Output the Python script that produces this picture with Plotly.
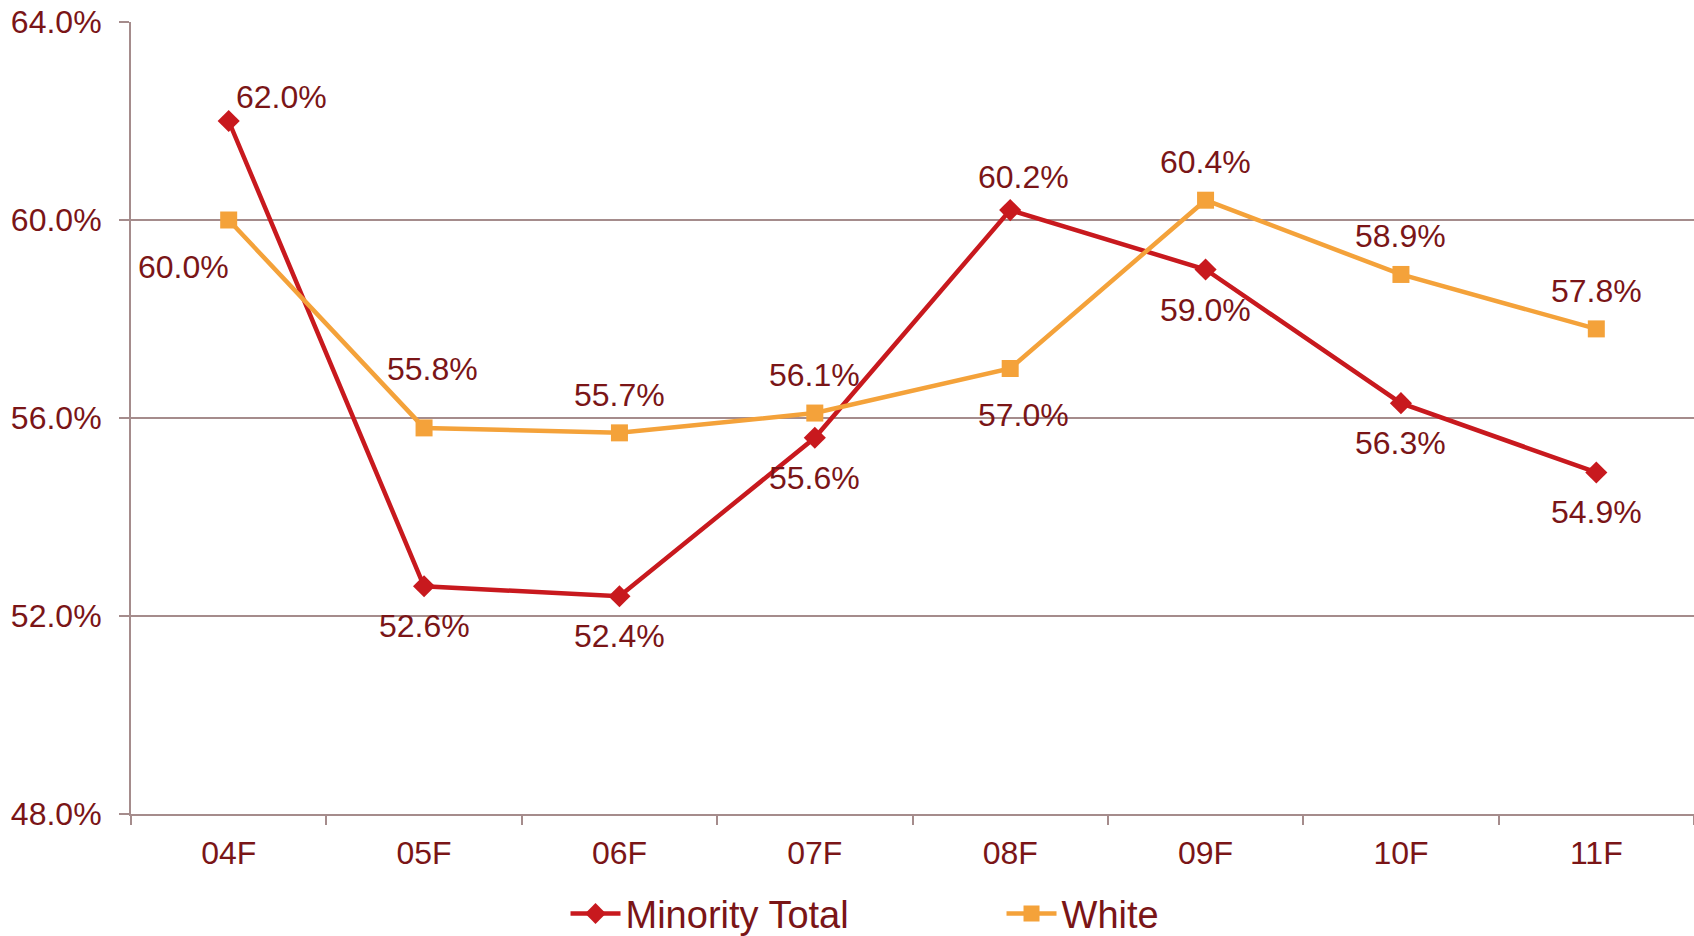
import plotly.graph_objects as go

# data
terms = ["04F", "05F", "06F", "07F", "08F", "09F", "10F", "11F"]
minority_total = [62.0, 52.6, 52.4, 55.6, 60.2, 59.0, 56.3, 54.9]
white = [60.0, 55.8, 55.7, 56.1, 57.0, 60.4, 58.9, 57.8]

# where each data label sits relative to its point
minority_pos = ["above_right", "below", "below", "below",
                "above_nudged", "below", "below", "below"]
white_pos = ["below_left", "above_far", "above", "above",
             "below_nudged", "above", "above", "above"]

RED = "#C8191E"
ORANGE = "#F4A23A"
TEXT = "#7A1517"
GRID = "#A58C8C"
FONT = "Liberation Sans, Arial, sans-serif"

# (xanchor, xshift, yshift) in pixels for each placement
PLACEMENT = {
    "above": ("center", 0, 38),
    "above_nudged": ("center", 13, 33),
    "above_far": ("center", 8, 59),
    "below": ("center", 0, -40),
    "below_nudged": ("center", 13, -46),
    "above_right": ("left", 5, 24),
    "below_left": ("right", 2, -47),
}

fig = go.Figure()

for name, values, color, symbol in [
    ("Minority Total", minority_total, RED, "diamond"),
    ("White", white, ORANGE, "square"),
]:
    fig.add_trace(go.Scatter(
        x=terms, y=values, name=name,
        mode="lines+markers",
        line=dict(color=color, width=4.5),
        marker=dict(symbol=symbol, size=17, color=color),
        cliponaxis=False,
        hoverinfo="skip",
    ))

for values, positions in [(minority_total, minority_pos), (white, white_pos)]:
    for term, v, pos in zip(terms, values, positions):
        xanchor, xshift, yshift = PLACEMENT[pos]
        fig.add_annotation(
            x=term, y=v, text=f"{v:.1f}%", showarrow=False,
            xanchor=xanchor, yanchor="middle",
            xshift=xshift, yshift=yshift,
            font=dict(size=32, color=TEXT, family=FONT),
        )

fig.update_layout(
    width=1694, height=936, autosize=False,
    margin=dict(l=131, r=0, t=22, b=122, autoexpand=False),
    paper_bgcolor="white", plot_bgcolor="white",
    font=dict(family=FONT, color=TEXT, size=32),
    showlegend=True,
    legend=dict(
        orientation="h", x=0.278, xanchor="left", y=-0.126, yanchor="middle",
        font=dict(size=38, color=TEXT, family=FONT),
        entrywidth=371, entrywidthmode="pixels",
        itemwidth=50,
    ),
)

fig.update_xaxes(
    type="category", range=[-0.5, len(terms) - 0.5], automargin=False,
    showline=True, linecolor=GRID, linewidth=2,
    ticks="outside", tickson="boundaries", ticklen=9, tickcolor=GRID, tickwidth=2,
    ticklabelstandoff=10,
    showgrid=False,
    tickfont=dict(size=32, color=TEXT),
)

fig.update_yaxes(
    range=[48, 64], dtick=4, tick0=48, automargin=False,
    tickformat=".1f", ticksuffix="%", ticklabeloverflow="allow",
    showline=True, linecolor=GRID, linewidth=2,
    ticks="outside", ticklen=10, tickcolor=GRID, tickwidth=2,
    ticklabelstandoff=11,
    showgrid=True, gridcolor=GRID, gridwidth=1.5,
    zeroline=False,
    tickfont=dict(size=32, color=TEXT),
)

# drop the page's default body margin so the figure fills the window
fig.write_html(
    "out.html",
    config={"displayModeBar": False, "responsive": False},
    post_script="document.body.style.margin='0';",
)
